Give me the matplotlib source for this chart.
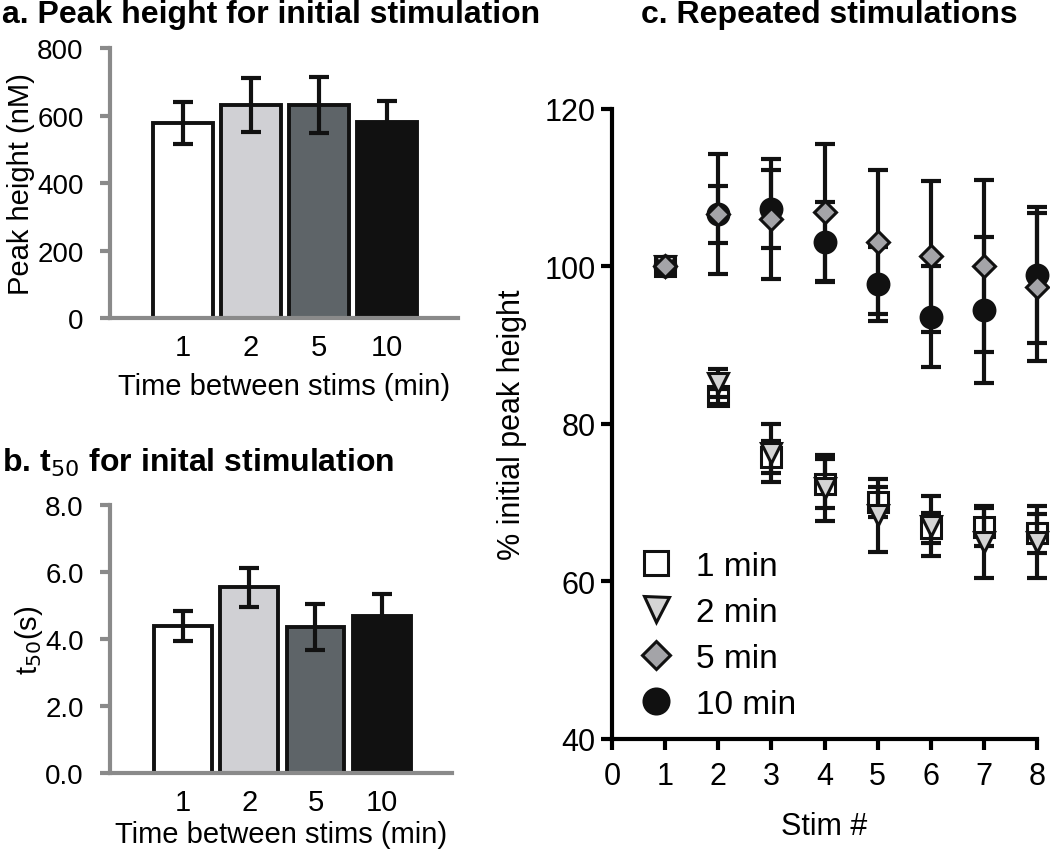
import matplotlib
matplotlib.use("Agg")
import matplotlib.pyplot as plt
import numpy as np

plt.rcParams['font.family'] = ['Liberation Sans', 'DejaVu Sans']

# panel a / b data
stim_gap = ["1", "2", "5", "10"]
bar_colors = ["#ffffff", "#d0d0d4", "#5e6468", "#111111"]
peak_height = [579, 631, 631, 580]
peak_err = [62, 80, 82, 62]
t50 = [4.40, 5.55, 4.35, 4.70]
t50_err = [0.45, 0.58, 0.68, 0.64]

# panel c data
stim_num = [1, 2, 3, 4, 5, 6, 7, 8]
pct_1min = [100, 83.5, 75.8, 72.4, 70.1, 66.8, 66.9, 66.1]
pct_1min_err = [0.5, 1.0, 2.0, 3.1, 1.9, 1.9, 2.4, 2.5]
pct_2min = [100, 85.2, 76.3, 71.9, 68.4, 67.0, 65.0, 65.0]
pct_2min_err = [0.5, 1.8, 3.7, 4.2, 4.6, 3.8, 4.6, 4.6]
pct_5min = [100, 106.7, 106.0, 106.9, 103.1, 101.3, 100.1, 97.4]
pct_5min_err = [0.5, 7.6, 7.6, 8.7, 9.2, 9.6, 10.9, 9.4]
pct_10min = [100, 106.6, 107.3, 103.1, 97.8, 93.6, 94.5, 98.9]
pct_10min_err = [0.5, 3.6, 5.0, 5.1, 4.7, 6.4, 9.3, 8.6]

GRAY = "#8a8a8a"

fig = plt.figure(figsize=(10.5, 8.53), dpi=100)


def bar_panel(rect, vals, errs, xlim, width, ylim, yticks, yfmt, ylabel, title, title_y):
    ax = fig.add_axes(rect)
    x = np.arange(len(vals))
    ax.bar(x, vals, width=width, color=bar_colors, edgecolor="#111111", linewidth=2.8, zorder=2)
    ax.errorbar(x, vals, yerr=errs, fmt="none", ecolor="#111111", elinewidth=3,
                capsize=7, capthick=3, zorder=3)
    ax.set_xlim(*xlim)
    ax.set_ylim(*ylim)
    ax.set_yticks(yticks)
    ax.set_yticklabels([yfmt.format(v) for v in yticks])
    ax.set_xticks(x)
    ax.set_xticklabels(stim_gap)
    for s in ["top", "right"]:
        ax.spines[s].set_visible(False)
    for s in ["left", "bottom"]:
        ax.spines[s].set_color(GRAY)
        ax.spines[s].set_linewidth(3)
    ax.tick_params(axis="y", colors=GRAY, labelcolor="black", length=7, width=3,
                   labelsize=20, pad=12)
    ax.tick_params(axis="x", length=0, labelsize=21, pad=11)
    ax.set_xlabel("Time between stims (min)", fontsize=21, labelpad=8)
    ax.set_ylabel(ylabel, fontsize=21)
    fig.text(0.002, title_y, title, fontsize=23, fontweight="bold", va="center", ha="left")
    return ax


ax_a = bar_panel([0.1048, 0.6260, 0.3314, 0.3165], peak_height, peak_err,
                 (-1.07, 4.04), 0.88, (0, 800), [0, 200, 400, 600, 800], "{:.0f}",
                 "Peak height (nM)", "a. Peak height for initial stimulation", 1 - 15 / 853)
ax_a.yaxis.set_label_coords(-0.215, 0.5)

ax_b = bar_panel([0.1048, 0.0926, 0.3257, 0.3142], t50, t50_err,
                 (-1.10, 4.06), 0.87, (0, 8), [0, 2, 4, 6, 8], "{:.1f}",
                 "t$_{50}$(s)", "b. t$_{50}$ for inital stimulation", 1 - 463 / 853)
ax_b.yaxis.set_label_coords(-0.19, 0.5)
ax_b.xaxis.labelpad = 3

# panel c
ax_c = fig.add_axes([0.5829, 0.1325, 0.4048, 0.7386])
series = [
    (pct_1min, pct_1min_err, "s", "white", 14, "1 min", 1.5),
    (pct_2min, pct_2min_err, "v", "#d4d4d4", 15, "2 min", 3.2),
    (pct_10min, pct_10min_err, "o", "#111111", 15, "10 min", 3.1),
    (pct_5min, pct_5min_err, "D", "#a4a4a8", 11.5, "5 min", 3.3),
]
handles = {}
for vals, errs, mk, fc, ms, lab, z in series:
    ax_c.errorbar(stim_num, vals, yerr=errs, fmt="none", ecolor="#111111", elinewidth=3,
                  capsize=7.5, capthick=3, zorder=2, clip_on=False)
    h, = ax_c.plot(stim_num, vals, linestyle="none", marker=mk, markersize=ms,
                   markerfacecolor=fc, markeredgecolor="#111111", markeredgewidth=2.2,
                   zorder=z, clip_on=False, label=lab)
    handles[lab] = h

ax_c.set_xlim(0, 8)
ax_c.set_ylim(40, 120)
ax_c.set_xticks(range(0, 9))
ax_c.set_yticks([40, 60, 80, 100, 120])
for s in ["top", "right"]:
    ax_c.spines[s].set_visible(False)
for s in ["left", "bottom"]:
    ax_c.spines[s].set_linewidth(3)
ax_c.tick_params(length=8, width=3, labelsize=22, pad=4)
ax_c.tick_params(axis="x", pad=8)
ax_c.set_xlabel("Stim #", fontsize=22)
ax_c.set_ylabel("% initial peak height", fontsize=22)
ax_c.yaxis.set_label_coords(-0.2, 0.5)
ax_c.xaxis.set_label_coords(0.5, -0.114)
ax_c.legend(handles=[handles[k] for k in ["1 min", "2 min", "5 min", "10 min"]],
            loc="upper left", bbox_to_anchor=(0.025, 0.325), frameon=False, fontsize=24,
            handlelength=1.0, handletextpad=0.7, labelspacing=0.45, borderpad=0,
            markerscale=1.2)
fig.text(0.790, 1 - 15 / 853, "c. Repeated stimulations", fontsize=23, fontweight="bold",
         va="center", ha="center")

fig.savefig("out.png", dpi=100)
